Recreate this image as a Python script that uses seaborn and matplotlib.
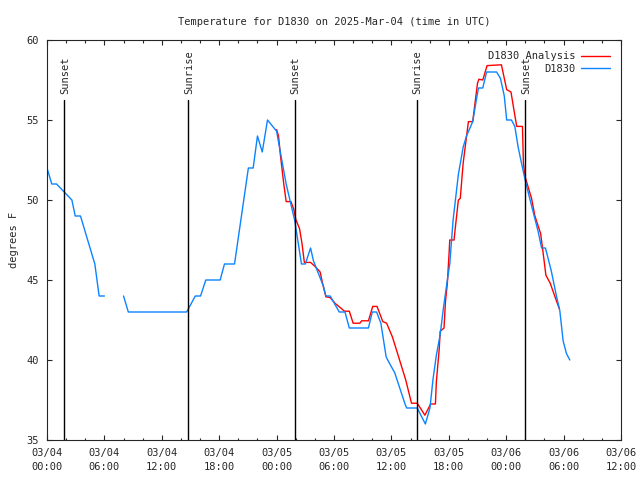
import numpy as np
import pandas as pd
import matplotlib
matplotlib.use("Agg")
import matplotlib.pyplot as plt
import seaborn as sns

# Observed temperature (hours since 2025-03-04 00:00 UTC), gap between 6h and 8h
obs_hours_a = [0.0, 0.5, 1.0, 2.6, 2.95, 3.5, 5.0, 5.45, 6.0]
obs_temp_a = [52.0, 51.0, 51.0, 50.0, 49.0, 49.0, 46.0, 44.0, 44.0]

obs_hours_b = [8.0, 8.5, 14.6, 15.5, 16.05, 16.6, 18.1, 18.55, 19.6, 21.05,
               21.55, 22.0, 22.5, 23.05, 24.0, 24.3, 25.0, 25.9, 26.6, 27.0,
               27.55, 27.85, 28.9, 29.15, 29.6, 30.55, 31.15, 31.6, 33.6, 34.0,
               34.45, 34.9, 35.45, 35.7, 36.35, 36.9, 37.45, 37.6, 38.7, 39.55,
               40.03, 40.35, 40.7, 41.1, 41.45, 41.8, 42.1, 42.45, 43.0, 43.5,
               43.85, 44.5, 44.85, 45.1, 45.55, 45.95, 47.0, 47.4, 47.8, 48.05,
               48.55, 48.9, 49.25, 49.6, 50.0, 50.5, 51.35, 51.7, 52.1, 52.7,
               53.25, 53.6, 53.95, 54.3, 54.65]
obs_temp_b = [44.0, 43.0, 43.0, 44.0, 44.0, 45.0, 45.0, 46.0, 46.0, 52.0,
              52.0, 54.0, 53.0, 55.0, 54.3, 53.3, 51.0, 48.7, 46.0, 46.0,
              47.0, 46.2, 44.6, 44.0, 44.0, 43.0, 43.0, 42.0, 42.0, 43.0,
              43.0, 42.3, 40.2, 39.9, 39.2, 38.2, 37.2, 37.0, 37.0, 36.0,
              37.0, 38.8, 40.3, 41.6, 43.3, 44.8, 46.0, 48.75, 51.6, 53.3,
              54.0, 54.9, 56.15, 57.0, 57.0, 58.0, 58.0, 57.6, 56.5, 55.0,
              55.0, 54.6, 53.3, 52.3, 51.2, 50.0, 48.0, 47.0, 47.0, 45.6,
              44.0, 43.1, 41.2, 40.4, 40.0]

# Analysis series
ana_hours = [24.0, 24.2, 24.4, 24.75, 25.0, 25.5, 25.8, 26.0, 26.4, 26.65,
             26.9, 27.55, 28.1, 28.55, 28.8, 29.15, 29.6, 30.1, 30.6, 31.1,
             31.6, 32.0, 32.7, 32.9, 33.6, 34.05, 34.5, 35.1, 35.5, 36.1,
             36.7, 37.5, 38.1, 38.7, 39.5, 40.1, 40.6, 40.7, 41.0, 41.1,
             41.5, 41.65, 41.85, 42.05, 42.1, 42.55, 42.65, 43.0, 43.2, 43.5,
             44.05, 44.5, 45.0, 45.15, 45.55, 46.0, 47.5, 48.05, 48.5, 48.9,
             49.1, 49.7, 49.8, 49.95, 50.65, 51.0, 51.6, 51.9, 52.15, 52.6,
             53.1, 53.55]
ana_temp = [54.4, 54.0, 52.8, 51.0, 49.9, 49.9, 49.4, 48.8, 48.2, 47.3,
            46.1, 46.1, 45.8, 45.5, 44.8, 43.95, 43.9, 43.55, 43.3, 43.05,
            43.05, 42.3, 42.3, 42.45, 42.45, 43.35, 43.35, 42.4, 42.3, 41.45,
            40.3, 38.75, 37.3, 37.3, 36.55, 37.25, 37.25, 38.65, 40.7, 41.8,
            42.0, 43.65, 44.8, 46.9, 47.5, 47.5, 48.1, 50.0, 50.1, 52.3,
            54.9, 54.9, 57.3, 57.55, 57.5, 58.4, 58.45, 56.9, 56.75, 55.3,
            54.6, 54.6, 52.3, 51.5, 50.1, 49.0, 47.9, 46.5, 45.3, 44.8,
            43.95, 43.2]

sun_labels = ["Sunset", "Sunrise", "Sunset", "Sunrise", "Sunset"]
sun_hours = [1.8, 14.75, 25.9, 38.65, 49.95]

tick_hours = [0, 6, 12, 18, 24, 30, 36, 42, 48, 54, 60]
tick_labels = ["03/04\n00:00", "03/04\n06:00", "03/04\n12:00", "03/04\n18:00",
               "03/05\n00:00", "03/05\n06:00", "03/05\n12:00", "03/05\n18:00",
               "03/06\n00:00", "03/06\n06:00", "03/06\n12:00"]

RED = "#ff0000"
BLUE = "#0a84ff"

sns.set_style("ticks")
plt.rcParams["font.family"] = ["DejaVu Sans Mono"]
plt.rcParams["font.size"] = 7.5

fig = plt.figure(figsize=(6.4, 4.8), dpi=100)
ax = fig.add_axes([47 / 640, 1 - 440 / 480, 574 / 640, 400 / 480])

ana_df = pd.DataFrame({"hours": ana_hours, "temp": ana_temp})
obs_a = pd.DataFrame({"hours": obs_hours_a, "temp": obs_temp_a})
obs_b = pd.DataFrame({"hours": obs_hours_b, "temp": obs_temp_b})

sns.lineplot(data=ana_df, x="hours", y="temp", color=RED, lw=1,
             label="D1830 Analysis", ax=ax)
sns.lineplot(data=obs_a, x="hours", y="temp", color=BLUE, lw=1,
             label="D1830", ax=ax)
sns.lineplot(data=obs_b, x="hours", y="temp", color=BLUE, lw=1, ax=ax)

# sunrise / sunset markers
for name, h in zip(sun_labels, sun_hours):
    ax.plot([h, h], [35, 56.25], color="black", lw=1)
    ax.text(h + 0.1, 56.6, name, rotation=90, ha="center", va="bottom",
            fontsize=7.5)

ax.set_xlim(0, 60)
ax.set_ylim(35, 60)
ax.set_xticks(tick_hours)
ax.set_xticklabels(tick_labels, linespacing=1.45)
ax.set_xticks(np.arange(0, 61, 2), minor=True)
ax.set_yticks([35, 40, 45, 50, 55, 60])
ax.tick_params(which="both", direction="in", top=True, right=True,
               labelsize=7.5, width=0.8)
ax.tick_params(which="major", length=3.6, pad=6)
ax.tick_params(which="minor", length=1.8)
for s in ax.spines.values():
    s.set_linewidth(0.8)

ax.set_xlabel("")
ax.set_ylabel("degrees F", fontsize=7.5, labelpad=5)
ax.set_title("Temperature for D1830 on 2025-Mar-04 (time in UTC)",
             fontsize=7.5, pad=11)

ax.legend(loc="upper right", frameon=False, markerfirst=False,
          handlelength=2.7, handletextpad=0.6, labelspacing=0.2,
          borderaxespad=0.7, fontsize=7.5)

fig.savefig("out.png", dpi=100)
